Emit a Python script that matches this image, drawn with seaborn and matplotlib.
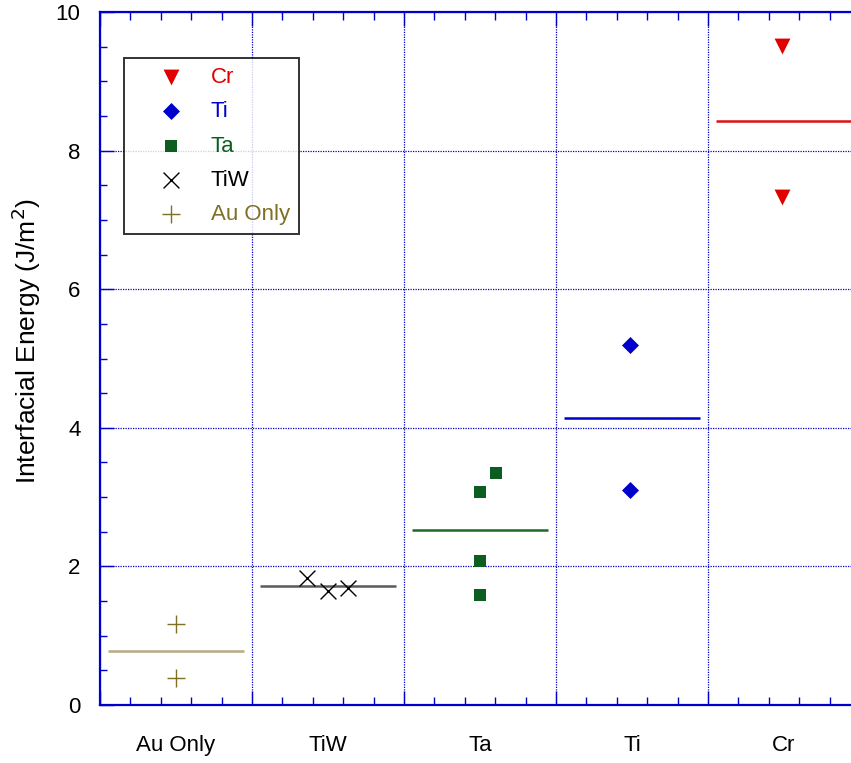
import numpy as np
import pandas as pd
import matplotlib
matplotlib.use('Agg')
import matplotlib.pyplot as plt
import matplotlib.transforms as mtransforms
from matplotlib.ticker import MultipleLocator
import seaborn as sns

sns.set_style('white')
plt.rcParams['font.family'] = ['Liberation Sans', 'DejaVu Sans']

# categories in axis order (left to right)
categorias = ['Au Only', 'TiW', 'Ta', 'Ti', 'Cr']
# data: x position (category units) and energy
x_au = [0.5, 0.5]
y_au = [1.17, 0.39]
x_tiw = [1.36, 1.50, 1.63]
y_tiw = [1.83, 1.64, 1.69]
x_ta = [2.5, 2.5, 2.5, 2.605]
y_ta = [3.07, 2.08, 1.59, 3.35]
x_ti = [3.49, 3.49]
y_ti = [5.19, 3.10]
x_cr = [4.49, 4.49]
y_cr = [9.51, 7.33]

xs = [x_au, x_tiw, x_ta, x_ti, x_cr]
ys = [y_au, y_tiw, y_ta, y_ti, y_cr]

colores = {'Cr': '#e00000', 'Ti': '#0000cc', 'Ta': '#0b5e1f',
           'TiW': '#000000', 'Au Only': '#7f7026'}
colores_media = {'Cr': '#e01010', 'Ti': '#0000cc', 'Ta': '#1a6a2a',
                 'TiW': '#5a5a5a', 'Au Only': '#b7aa7e'}
marcadores = {'Cr': 'v', 'Ti': 'D', 'Ta': 's', 'TiW': 'x', 'Au Only': '+'}
tamanos = {'Cr': 130, 'Ti': 75, 'Ta': 80, 'TiW': 130, 'Au Only': 150}
orden_leyenda = ['Cr', 'Ti', 'Ta', 'TiW', 'Au Only']

filas = []
for c, xx, yy in zip(categorias, xs, ys):
    for a, b in zip(xx, yy):
        filas.append({'x': a, 'y': b, 'mat': c})
df = pd.DataFrame(filas)

fig = plt.figure(figsize=(8.51, 7.63), dpi=100)
ax = fig.add_axes([100/851, 1-705/763, 760/851, 693/763])

azul = '#0000cc'
for k, c in enumerate(orden_leyenda):
    sub = df[df.mat == c]
    filled = marcadores[c] not in ('x', '+')
    sns.scatterplot(data=sub, x='x', y='y', ax=ax, marker=marcadores[c],
                    s=tamanos[c], color=colores[c], label=c,
                    linewidth=0 if filled else 1.0, zorder=5)

# mean lines per category
for i, c in enumerate(categorias):
    m = np.mean(ys[i])
    ax.hlines(m, i + 0.05, i + 0.95, color=colores_media[c], lw=1.8, zorder=4)

ax.set_xlim(0, 5)
ax.set_ylim(0, 10)
ax.xaxis.set_major_locator(MultipleLocator(1))
ax.xaxis.set_minor_locator(MultipleLocator(0.2))
ax.yaxis.set_major_locator(MultipleLocator(2))
ax.yaxis.set_minor_locator(MultipleLocator(0.5))
ax.set_xticklabels([])
ax.tick_params(axis='x', which='both', direction='in', top=True, bottom=True,
               colors=azul, labelbottom=False)
ax.tick_params(axis='x', which='major', length=10, width=1)
ax.tick_params(axis='x', which='minor', length=6, width=1)
ax.tick_params(axis='y', which='both', direction='in', left=True, right=False,
               colors=azul, labelcolor='black', labelsize=16, pad=14)
ax.tick_params(axis='y', which='major', length=10, width=1)
ax.tick_params(axis='y', which='minor', length=5, width=1)
ax.grid(True, which='major', color=azul, ls=(0, (1, 1)), lw=0.9)

for lado in ['left', 'bottom', 'top']:
    ax.spines[lado].set_color(azul)
    ax.spines[lado].set_linewidth(1.6)
ax.spines['right'].set_visible(False)

trans = mtransforms.blended_transform_factory(ax.transData, ax.transAxes)
for i, c in enumerate(categorias):
    ax.text(i + 0.5, -0.058, c, transform=trans, ha='center', va='center',
            fontsize=16, color='black')

ax.set_xlabel('')
ax.set_ylabel('Interfacial Energy (J/m$^2$)', fontsize=19, color='black')
ax.yaxis.set_label_coords(-0.075, 0.525)

leg = ax.legend(loc='upper left', bbox_to_anchor=(24/760, 647/693),
                fontsize=16, frameon=True, fancybox=False, handletextpad=0.1,
                borderpad=0.4, labelspacing=0.6, handlelength=3.4,
                borderaxespad=0)
leg.get_frame().set_edgecolor('black')
leg.get_frame().set_linewidth(1.4)
for t in leg.get_texts():
    t.set_color(colores[t.get_text()])

fig.savefig('out.png', dpi=100)
